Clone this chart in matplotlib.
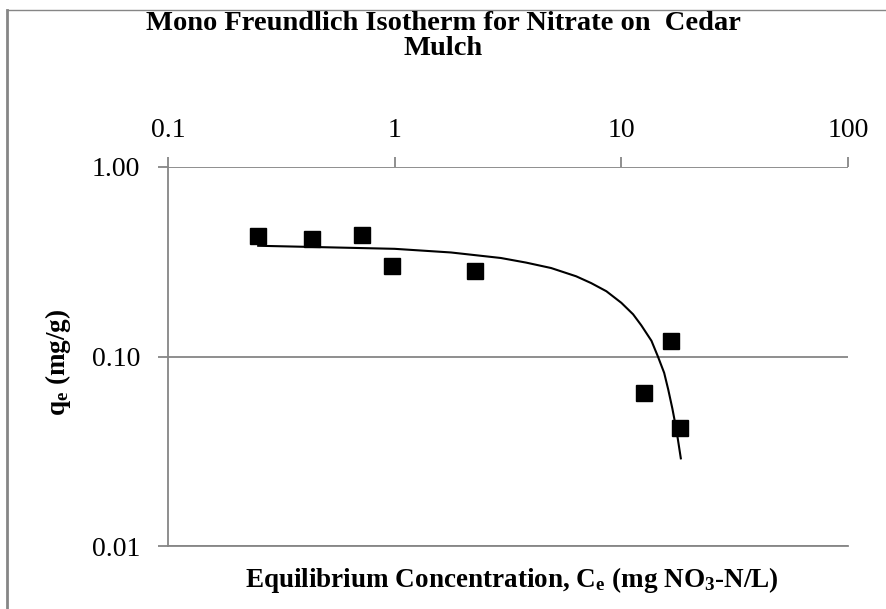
import matplotlib.pyplot as plt
from matplotlib.lines import Line2D
from matplotlib.ticker import FixedLocator, FixedFormatter, NullLocator

plt.rcParams['font.family'] = ['Liberation Serif', 'DejaVu Serif']
plt.rcParams['mathtext.fontset'] = 'custom'
plt.rcParams['mathtext.rm'] = 'Liberation Serif'
plt.rcParams['mathtext.bf'] = 'Liberation Serif:bold'

# measured data (Ce in mg/L, qe in mg/g)
ce = [0.25, 0.43, 0.72, 0.97, 2.26, 12.6, 16.5, 18.2]
qe = [0.433, 0.418, 0.439, 0.301, 0.284, 0.064, 0.120, 0.042]

# fitted curve
fit_ce = [0.25, 0.5, 1.0, 1.77, 2.94, 3.80, 4.9, 6.32, 7.36, 8.59, 10.0,
          11.27, 12.25, 13.58, 14.5, 15.45, 16.1, 16.8, 17.5, 18.3]
fit_qe = [0.384, 0.377, 0.370, 0.354, 0.331, 0.313, 0.293, 0.265, 0.244, 0.221, 0.192,
          0.167, 0.146, 0.121, 0.100, 0.082, 0.067, 0.053, 0.041, 0.029]

x_ticks = [0.1, 1, 10, 100]
x_labels = ['0.1', '1', '10', '100']
y_ticks = [0.01, 0.1, 1.0]
y_labels = ['0.01', '0.10', '1.00']

grey = '#868686'

fig = plt.figure(figsize=(8.87, 6.09), dpi=100)
ax = fig.add_axes([168/887, 63/609, 680/887, 379/609])

ax.plot(fit_ce, fit_qe, color='black', lw=1.5, zorder=3)
ax.plot(ce, qe, 's', color='black', markersize=11, zorder=4)

ax.set_xscale('log')
ax.set_yscale('log')
ax.set_xlim(0.1, 100)
ax.set_ylim(0.01, 1.0)

ax.xaxis.tick_top()
ax.xaxis.set_major_locator(FixedLocator(x_ticks))
ax.xaxis.set_major_formatter(FixedFormatter(x_labels))
ax.xaxis.set_minor_locator(NullLocator())
ax.yaxis.set_major_locator(FixedLocator(y_ticks))
ax.yaxis.set_major_formatter(FixedFormatter(y_labels))
ax.yaxis.set_minor_locator(NullLocator())

ax.tick_params(axis='x', direction='out', length=7, width=1.3, color=grey,
               pad=10, labelsize=20)
ax.tick_params(axis='y', direction='out', length=7, width=1.3, color=grey,
               pad=13, labelsize=20)

ax.grid(axis='y', color=grey, lw=1.3)
for side in ['top', 'right']:
    ax.spines[side].set_visible(False)
for side in ['left', 'bottom']:
    ax.spines[side].set_color(grey)
    ax.spines[side].set_linewidth(1.3)

fig.text(443/887, 1 - 36/609, 'Mono Freundlich Isotherm for Nitrate on  Cedar\nMulch',
         ha='center', va='center', fontsize=20.5, fontweight='bold', linespacing=1.0)
fig.text(512/887, 1 - 580/609, r'Equilibrium Concentration, $\mathbf{C_e}$ (mg $\mathbf{NO_3}$-N/L)',
         ha='center', va='center', fontsize=19.5, fontweight='bold')
fig.text(58/887, 1 - 362/609, r'$\mathbf{q_e}$ (mg/g)', rotation=90,
         ha='center', va='center', fontsize=19.5, fontweight='bold')

# outer chart frame
fig.add_artist(Line2D([7/887, 7/887], [0, 1 - 9.5/609], color=grey, lw=2,
                      transform=fig.transFigure))
fig.add_artist(Line2D([7/887, 1], [1 - 9.5/609, 1 - 9.5/609], color=grey, lw=1,
                      transform=fig.transFigure))

fig.savefig('out.png', dpi=100)
